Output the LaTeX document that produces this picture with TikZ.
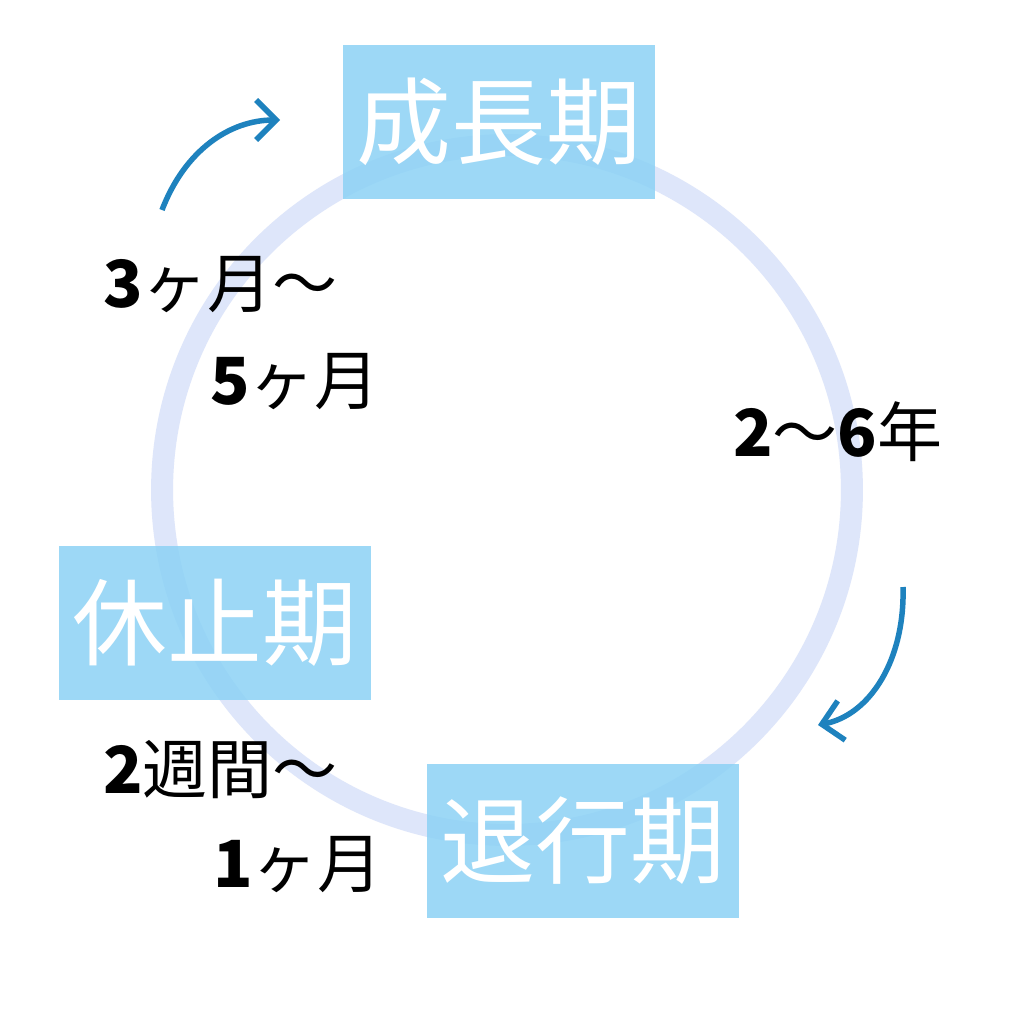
\documentclass[tikz,border=0pt]{standalone}
\usepackage{fontspec}
\newfontfamily\cjk{Noto Sans CJK JP}
\usepackage{tikz}
\usetikzlibrary{arrows.meta}
\definecolor{ringblue}{RGB}{222,230,250}
\definecolor{boxblue}{RGB}{140,210,245}
\definecolor{arrowblue}{RGB}{30,130,190}
\tikzset{
	phase/.style={fill=boxblue, fill opacity=0.85, text opacity=1, text=white, minimum width=6.26cm, minimum height=3.1cm, inner sep=0pt, font=\cjk\fontsize{54}{56}\selectfont},
	span/.style={anchor=west, inner sep=0pt, font=\cjk\fontsize{37}{39}\selectfont},
	turn/.style={arrowblue, line width=1.1mm, -{Straight Barb[length=4mm,width=8mm]}}
}
\begin{document}
\begin{tikzpicture}[x=0.02cm, y=-0.02cm]
		\useasboundingbox (0,0) rectangle (1024,1011);
		\fill[white] (0,0) rectangle (1024,1011);
		
		\draw[ringblue, line width=0.44cm] (507,490) circle[radius=6.9cm];
		
		\node[phase] (grow) at (499,122) {成長期};
		\node[phase] (rest) at (215,623) {休止期};
		\node[phase] (fall) at (583,841) {退行期};
		
		\node[span] (g1) at (103,285) {\textbf{3}ヶ月〜};
		\node[span] (g2) at (210,382) {\textbf{5}ヶ月};
		\node[span] (a1) at (733,432) {\textbf{2}〜\textbf{6}年};
		\node[span] (r1) at (103,770) {\textbf{2}週間〜};
		\node[span] (r2) at (213,865) {\textbf{1}ヶ月};
		
		\coordinate (s1) at (162,210);
		\coordinate (e1) at (280,120);
		\coordinate (s2) at (903,587);
		\coordinate (e2) at (818,725);
		\draw[turn] (s1) .. controls (185,150) and (230,120) .. (e1);
		\draw[turn] (s2) .. controls (905,660) and (870,715) .. (e2);
\end{tikzpicture}
\end{document}
